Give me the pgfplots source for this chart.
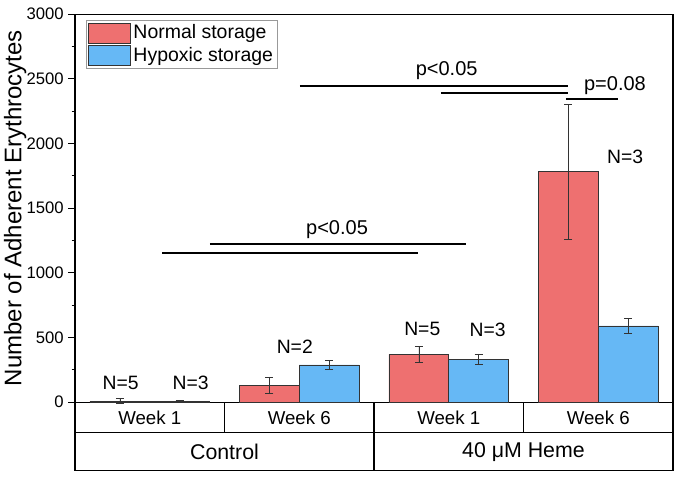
\documentclass[border=0pt]{standalone}
\usepackage{fontspec}
\setmainfont{Liberation Sans}
\usepackage{pgfplots}
\pgfplotsset{compat=1.18}
\definecolor{nred}{HTML}{EE7070}
\definecolor{hblue}{HTML}{66B8F5}

\begin{document}
\begin{tikzpicture}
\begin{axis}[
  width=448.5pt, height=291pt, scale only axis,
  xmin=-0.5, xmax=3.5, ymin=0, ymax=3000,
  xtick=\empty,
  ytick={0,500,...,3000},
  minor y tick num=1,
  tick align=outside,
  ytick pos=left,
  major tick length=5pt, minor tick length=2.5pt,
  tick style={black, line width=0.6pt},
  axis line style={line width=0.8pt},
  /pgf/number format/assume math mode=true,
  /pgf/number format/1000 sep={},
  yticklabel style={font=\fontsize{12.5}{14}\selectfont},
  ylabel={Number of Adherent Erythrocytes},
  ylabel style={font=\fontsize{18}{20}\selectfont,
    at={(axis description cs:-0.1,0.5)}, anchor=center},
  clip=false,
  legend image code/.code={\draw[#1] (0pt,-7.5pt) rectangle (31.5pt,7.5pt);},
  legend style={at={(axis description cs:0.0184,0.985)}, anchor=north west,
    draw=gray!80, inner sep=1.5pt, font=\fontsize{14.6}{17}\selectfont,
    row sep=1pt},
  legend cell align=left,
]
% normal storage (bars at group position - 0.2)
\addplot[ybar, bar width=44.85pt, bar shift=0pt, fill=nred, draw=black!80, forget plot,
  error bars/.cd, y dir=both, y explicit,
  error bar style={line width=0.5pt, black!80},
  error mark options={rotate=90, black!80, mark size=3pt, line width=0.5pt}]
  coordinates {(-0.2,8) +- (0,20) (0.8,130) +- (0,65) (1.8,369) +- (0,59) (2.8,1781) +- (0,520)};
% hypoxic storage (bars at group position + 0.2)
\addplot[ybar, bar width=44.85pt, bar shift=0pt, fill=hblue, draw=black!80, forget plot,
  error bars/.cd, y dir=both, y explicit,
  error bar style={line width=0.5pt, black!80},
  error mark options={rotate=90, black!80, mark size=3pt, line width=0.5pt}]
  coordinates {(0.2,3) +- (0,8) (1.2,288) +- (0,34) (2.2,333) +- (0,39) (3.2,590) +- (0,57)};
\addlegendimage{fill=nred, draw=black!80}
\addlegendentry{Normal storage}
\addlegendimage{fill=hblue, draw=black!80}
\addlegendentry{Hypoxic storage}

% significance bars
\draw[line width=1.4pt] (axis cs:0.082,1155) -- (axis cs:1.794,1155);
\draw[line width=1.4pt] (axis cs:0.403,1224) -- (axis cs:2.115,1224);
\node[font=\fontsize{15}{18}\selectfont] at (axis cs:1.253,1330) {p<0.05};
\draw[line width=1.4pt] (axis cs:1.005,2446) -- (axis cs:2.796,2446);
\draw[line width=1.4pt] (axis cs:1.948,2390) -- (axis cs:2.796,2390);
\node[font=\fontsize{15}{18}\selectfont] at (axis cs:1.986,2560) {p<0.05};
\draw[line width=1.4pt] (axis cs:2.784,2341) -- (axis cs:3.13,2341);
\node[font=\fontsize{15}{18}\selectfont] at (axis cs:3.112,2445) {p=0.08};

% N labels
\begin{scope}[every node/.style={font=\fontsize{14.5}{17}\selectfont}]
\node at (axis cs:-0.194,149) {N=5};
\node at (axis cs:0.274,149) {N=3};
\node at (axis cs:0.97,428) {N=2};
\node at (axis cs:1.823,562) {N=5};
\node at (axis cs:2.26,562) {N=3};
\node at (axis cs:3.18,1895) {N=3};
\end{scope}

% category table below the axis
\draw[line width=0.8pt] (axis cs:-0.5,0) -- (axis cs:-0.5,-526) -- (axis cs:3.5,-526) -- (axis cs:3.5,0);
\draw[line width=0.8pt] (axis cs:-0.5,-237) -- (axis cs:3.5,-237);
\draw[line width=0.8pt] (axis cs:0.5,0) -- (axis cs:0.5,-237);
\draw[line width=0.8pt] (axis cs:1.5,0) -- (axis cs:1.5,-526);
\draw[line width=0.8pt] (axis cs:2.5,0) -- (axis cs:2.5,-237);
\begin{scope}[every node/.style={font=\fontsize{14}{17}\selectfont}]
\node at (axis cs:0,-125) {Week 1};
\node at (axis cs:1,-125) {Week 6};
\node at (axis cs:2,-125) {Week 1};
\node at (axis cs:3,-125) {Week 6};
\end{scope}
\node[font=\fontsize{16}{19}\selectfont] at (axis cs:0.5,-384) {Control};
\node[font=\fontsize{16}{19}\selectfont] at (axis cs:2.5,-384) {40 μM Heme};

\coordinate (bbl) at (axis cs:-1.0017,-595.5);
\coordinate (btr) at (axis cs:3.547,3109);
\end{axis}
\pgfresetboundingbox
\path[use as bounding box] (bbl) rectangle (btr);
\end{tikzpicture}
\end{document}
